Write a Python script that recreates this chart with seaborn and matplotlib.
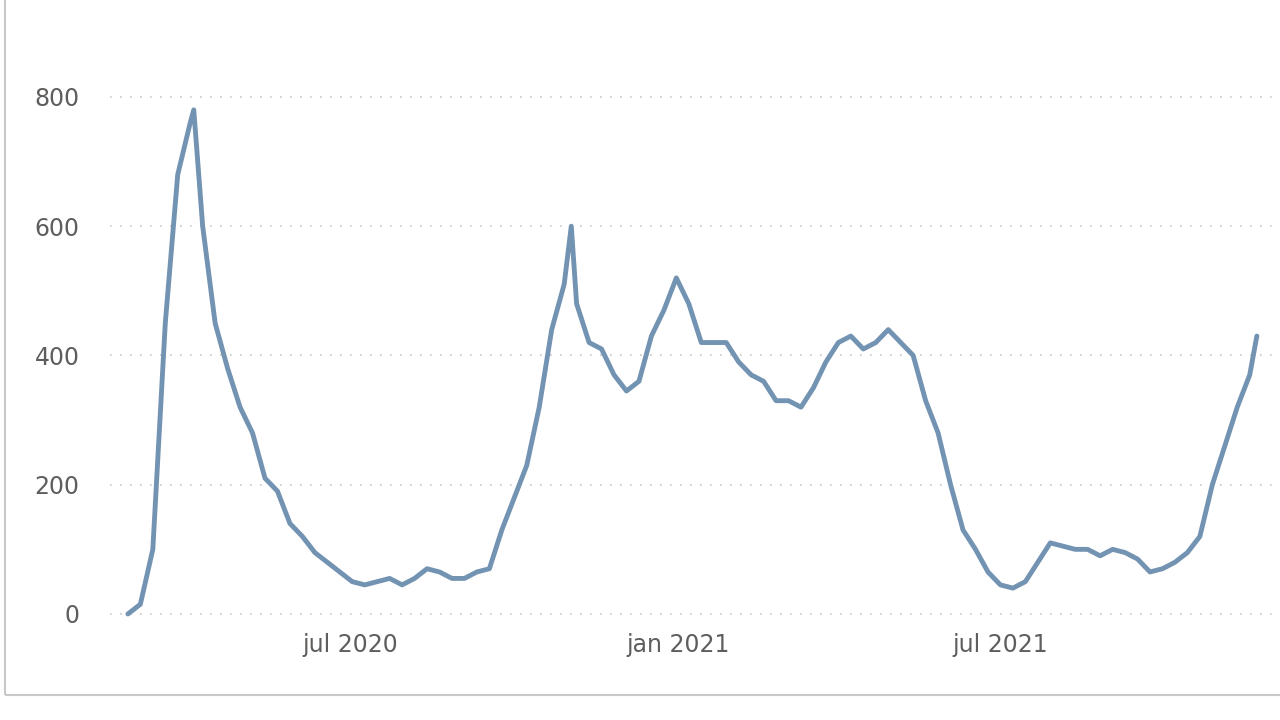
import pandas as pd
import matplotlib
matplotlib.use("Agg")
import matplotlib.pyplot as plt
from matplotlib.patches import Rectangle
import seaborn as sns

# Daily cases, read roughly weekly off the reference chart
dates = list(pd.date_range("2020-02-27", "2021-11-18", freq="7D")) + [pd.Timestamp("2021-11-22")]
values = [
    0, 15, 100, 450, 680, 760, 600, 450, 380, 320, 280, 210, 190, 140, 120, 95, 80, 65,
    50, 45, 50, 55, 45, 55, 70, 65, 55, 55, 65, 70, 130, 180, 230, 320, 440, 510, 480,
    420, 410, 370, 345, 360, 430, 470, 520, 480, 420, 420, 420, 390, 370, 360, 330, 330,
    320, 350, 390, 420, 430, 410, 420, 440, 420, 400, 330, 280, 200, 130, 100, 65, 45,
    40, 50, 80, 110, 105, 100, 100, 90, 100, 95, 85, 65, 70, 80, 95, 120, 200, 260, 320,
    370, 430,
]
# a couple of sharp peaks visible in the picture
extra_dates = [pd.Timestamp("2020-04-04"), pd.Timestamp("2020-11-02")]
extra_values = [780, 600]

df = pd.DataFrame({"date": dates + extra_dates, "cases": values + extra_values}).sort_values("date")

sns.set_style("white")
fig = plt.figure(figsize=(12.8, 7.2), dpi=100)
ax = fig.add_axes([0.086, 0.132, 0.914, 0.868])

sns.lineplot(data=df, x="date", y="cases", color="#7393B3", linewidth=3.5, ax=ax)

ax.set_ylim(-17, 950)
ax.set_xlim(pd.Timestamp("2020-02-17"), pd.Timestamp("2021-12-05"))
ax.set_yticks([0, 200, 400, 600, 800])
ax.set_xticks(pd.to_datetime(["2020-07-01", "2021-01-01", "2021-07-01"]))
ax.set_xticklabels(["jul 2020", "jan 2021", "jul 2021"])
ax.tick_params(colors="#605E5C", labelsize=17, length=0)
ax.tick_params(axis="x", pad=6)
ax.tick_params(axis="y", pad=22)
ax.yaxis.grid(True, linestyle=(0, (1, 5)), color="#C8C6C4", linewidth=1.2)
ax.set_xlabel("")
ax.set_ylabel("")
for s in ax.spines.values():
    s.set_visible(False)

# light frame around the visual
fig.patches.append(Rectangle((5 / 1280, 25 / 720), 1.0, 1.0, transform=fig.transFigure,
                             fill=False, edgecolor="#C8C8C8", linewidth=1.5))

fig.savefig("out.png", dpi=100)
